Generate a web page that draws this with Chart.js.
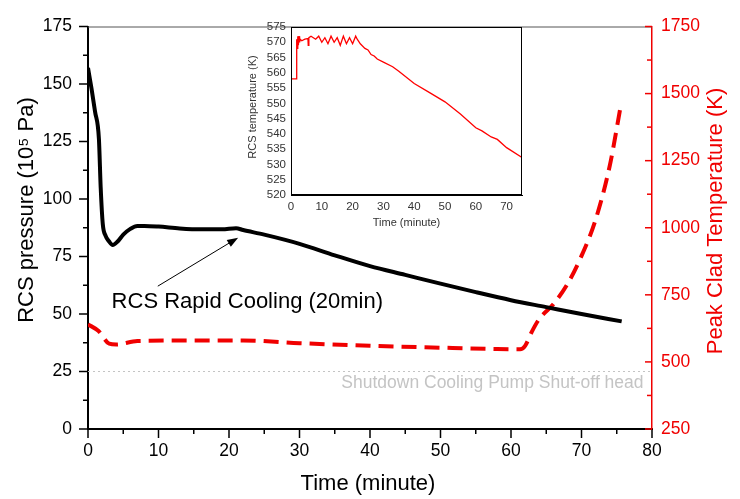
<!DOCTYPE html>
<html lang="en">
<head>
<meta charset="UTF-8">
<title>RCS pressure and PCT</title>
<script src="https://cdn.jsdelivr.net/npm/chart.js"></script>
<style>
  body { margin: 0; background: #fff; }
  #wrap { position: relative; width: 740px; height: 499px; }
  #main { position: absolute; left: 0; top: 0; }
  #inset { position: absolute; left: 240px; top: 18px; }
</style>
</head>
<body>
<div id="wrap">
  <canvas id="main" width="740" height="499"></canvas>
  <canvas id="inset" width="290" height="215"></canvas>
</div>
<script>
// RCS pressure (10^5 Pa) vs time (minute)
var timeP = [0, 0.5, 1, 1.55, 1.8, 2.1, 2.5, 3, 3.5, 4.2, 5, 6, 7, 8, 10, 13, 16, 19, 21, 22, 25, 30, 35, 40, 45, 50, 55, 60, 65, 70, 75.7];
var pressure = [157, 148, 138, 126, 105, 89, 84, 81.5, 80, 81.5, 84.5, 87, 88.3, 88.3, 88, 87.2, 86.8, 86.8, 87.3, 86.5, 84.5, 80.5, 75.5, 70.8, 67, 63.2, 59.5, 56, 53, 50, 46.8];

// peak clad temperature (K)
var timePct = [0, 1.5, 3, 4, 7, 15, 22, 30, 40, 50, 58, 61.3, 62, 63, 64, 66, 68, 70, 72, 74, 75.5];
var pct = [640, 615, 568, 565, 578, 580, 580, 570, 560, 553, 548, 547, 560, 615, 660, 715, 790, 895, 1030, 1230, 1445];

// inset: RCS temperature (K)
var timeT = [0, 1.8, 1.85, 2.0, 2.2, 2.4, 2.6, 2.8, 3.0, 3.5, 4.5, 5.5, 5.6, 5.8, 6.5, 8, 9, 10, 11, 12, 13, 14, 15, 16, 17, 18, 19, 20, 21, 21.5, 22.5, 24, 25, 26, 27, 28, 30, 33, 35, 40, 45, 50, 55, 60, 62, 65, 67, 70, 75];
var tempT = [558, 558, 571, 568, 572, 569, 572, 570, 571, 570.5, 571, 571.2, 569, 571.5, 572, 571, 572, 570, 571.5, 569.5, 572, 570, 571.5, 569, 572, 569.5, 571.5, 569.5, 572, 571, 569.5, 568, 567.5, 566, 565.5, 564.5, 563.5, 562, 560.5, 556.5, 553.5, 550.5, 546.5, 542, 541, 539, 538.2, 535.5, 532.3];
var insetTimeTicks = [0, 10, 20, 30, 40, 50, 60, 70];

var shutoffHead = 25;
var noteText = 'RCS Rapid Cooling (20min)';
var shutoffText = 'Shutdown Cooling Pump Shut-off head';

var RED = '#f00000';
var FONT = 'Liberation Sans, Arial, sans-serif';

function pts(xs, ys) {
  return xs.map(function (v, i) { return { x: v, y: ys[i] }; });
}

function plain(v) { return String(v); }

function seg(ctx, x1, y1, x2, y2) {
  ctx.beginPath(); ctx.moveTo(x1, y1); ctx.lineTo(x2, y2); ctx.stroke();
}

// tick marks, frame, titles
var axisMarks = {
  id: 'axisMarks',
  afterDraw: function (chart) {
    var ctx = chart.ctx, a = chart.chartArea;
    var x = chart.scales.x, y = chart.scales.y, y2 = chart.scales.y2;
    var v, p;
    ctx.save();
    ctx.strokeStyle = '#555'; ctx.lineWidth = 1;
    seg(ctx, a.left, a.top + 0.5, a.right, a.top + 0.5);

    ctx.strokeStyle = '#000'; ctx.lineWidth = 1.5;
    for (v = 0; v <= 175; v += 12.5) {
      p = y.getPixelForValue(v);
      seg(ctx, a.left, p, a.left - (v % 25 === 0 ? 9 : 5), p);
    }
    for (v = 0; v <= 80; v += 5) {
      p = x.getPixelForValue(v);
      seg(ctx, p, a.bottom, p, a.bottom + (v % 10 === 0 ? 9 : 5));
    }
    ctx.strokeStyle = RED;
    for (v = 250; v <= 1750; v += 125) {
      p = y2.getPixelForValue(v);
      seg(ctx, a.right, p, a.right - (v % 250 === 0 ? 7 : 5), p);
    }

    ctx.textAlign = 'center'; ctx.textBaseline = 'middle';
    ctx.font = '22px ' + FONT;
    ctx.fillStyle = '#000';
    ctx.fillText('Time (minute)', (a.left + a.right) / 2 - 2, 484);
    ctx.save();
    ctx.translate(27, 210); ctx.rotate(-Math.PI / 2);
    ctx.fillText('RCS pressure (10\u2075 Pa)', 0, 0);
    ctx.restore();
    ctx.save();
    ctx.fillStyle = RED;
    ctx.translate(716, 221); ctx.rotate(-Math.PI / 2);
    ctx.fillText('Peak Clad Temperature (K)', 0, 0);
    ctx.restore();
    ctx.restore();
  }
};

// shut-off head line and the cooling note
var notes = {
  id: 'notes',
  beforeDatasetsDraw: function (chart) {
    var ctx = chart.ctx, a = chart.chartArea;
    var x = chart.scales.x, y = chart.scales.y;
    var py = y.getPixelForValue(shutoffHead);
    ctx.save();
    ctx.strokeStyle = '#c4c4c4'; ctx.lineWidth = 1; ctx.setLineDash([2, 3]);
    seg(ctx, a.left, py, a.right, py);
    ctx.setLineDash([]);
    ctx.fillStyle = '#c4c4c4';
    ctx.font = '17.5px ' + FONT;
    ctx.textAlign = 'right'; ctx.textBaseline = 'middle';
    ctx.fillText(shutoffText, x.getPixelForValue(78.8), y.getPixelForValue(20));

    // arrow
    var x1 = x.getPixelForValue(9.9), y1 = y.getPixelForValue(62.1);
    var x2 = x.getPixelForValue(21.3), y2 = y.getPixelForValue(83.2);
    var ang = Math.atan2(y2 - y1, x2 - x1);
    ctx.strokeStyle = '#000'; ctx.lineWidth = 1;
    seg(ctx, x1, y1, x2 - 6 * Math.cos(ang), y2 - 6 * Math.sin(ang));
    ctx.fillStyle = '#000';
    ctx.beginPath();
    ctx.moveTo(x2, y2);
    ctx.lineTo(x2 - 11 * Math.cos(ang) + 4 * Math.sin(ang), y2 - 11 * Math.sin(ang) - 4 * Math.cos(ang));
    ctx.lineTo(x2 - 11 * Math.cos(ang) - 4 * Math.sin(ang), y2 - 11 * Math.sin(ang) + 4 * Math.cos(ang));
    ctx.closePath(); ctx.fill();

    ctx.font = '22px ' + FONT;
    ctx.textAlign = 'center';
    ctx.fillText(noteText, x.getPixelForValue(22.6), y.getPixelForValue(55.4));
    ctx.restore();
  }
};

var tickFont = { family: FONT, size: 17.5 };

new Chart(document.getElementById('main'), {
  type: 'line',
  data: {
    datasets: [{
      data: pts(timeP, pressure),
      yAxisID: 'y',
      borderColor: '#000',
      borderWidth: 4,
      pointRadius: 0,
      cubicInterpolationMode: 'monotone'
    }, {
      data: pts(timePct, pct),
      yAxisID: 'y2',
      borderColor: RED,
      borderWidth: 4,
      borderDash: [15, 8],
      pointRadius: 0,
      cubicInterpolationMode: 'monotone'
    }]
  },
  options: {
    responsive: false,
    animation: false,
    layout: { padding: { top: 15 } },
    plugins: { legend: { display: false }, tooltip: { enabled: false } },
    scales: {
      x: {
        type: 'linear', min: 0, max: 80,
        ticks: { stepSize: 10, font: tickFont, color: '#000', padding: 12, callback: plain, maxRotation: 0 },
        grid: { display: false, drawTicks: false },
        border: { color: '#000', width: 2 },
        afterFit: function (s) { s.height = 70; }
      },
      y: {
        position: 'left', min: 0, max: 175,
        ticks: { stepSize: 25, font: tickFont, color: '#000', padding: 16, callback: plain },
        grid: { display: false, drawTicks: false },
        border: { color: '#000', width: 2 },
        afterFit: function (s) { s.width = 88; }
      },
      y2: {
        position: 'right', min: 250, max: 1750,
        ticks: { stepSize: 250, font: tickFont, color: RED, padding: 9, callback: plain },
        grid: { display: false, drawTicks: false },
        border: { color: RED, width: 1.5 },
        afterFit: function (s) { s.width = 88; }
      }
    }
  },
  plugins: [axisMarks, notes]
});

// inset chart
var insetFrame = {
  id: 'insetFrame',
  afterDraw: function (chart) {
    var ctx = chart.ctx, a = chart.chartArea;
    ctx.save();
    ctx.strokeStyle = '#000'; ctx.lineWidth = 1;
    ctx.strokeRect(a.left + 0.5, a.top + 0.5, a.right - a.left - 1, a.bottom - a.top - 1);
    ctx.fillStyle = '#333';
    ctx.font = '11px ' + FONT;
    ctx.textAlign = 'center'; ctx.textBaseline = 'middle';
    ctx.fillText('Time (minute)', (a.left + a.right) / 2, 205);
    ctx.translate(13, 89); ctx.rotate(-Math.PI / 2);
    ctx.fillText('RCS temperature (K)', 0, 0);
    ctx.restore();
  }
};

var insetFont = { family: FONT, size: 11.5 };

new Chart(document.getElementById('inset'), {
  type: 'line',
  data: {
    datasets: [{
      data: pts(timeT, tempT),
      borderColor: '#ff0000',
      borderWidth: 1.3,
      pointRadius: 0,
      tension: 0
    }]
  },
  options: {
    responsive: false,
    animation: false,
    layout: { padding: { top: 9, right: 8 } },
    plugins: { legend: { display: false }, tooltip: { enabled: false } },
    scales: {
      x: {
        type: 'linear', min: 0, max: 75,
        ticks: { font: insetFont, color: '#333', padding: 2, autoSkip: false, maxRotation: 0, callback: plain },
        afterBuildTicks: function (s) { s.ticks = insetTimeTicks.map(function (v) { return { value: v }; }); },
        grid: { display: false, drawTicks: true, tickLength: 3, color: '#000' },
        border: { color: '#000', width: 1 },
        afterFit: function (s) { s.height = 38; }
      },
      y: {
        min: 520, max: 575,
        ticks: { stepSize: 5, font: insetFont, color: '#333', padding: 2, autoSkip: false, callback: plain },
        grid: { display: false, drawTicks: true, tickLength: 3, color: '#000' },
        border: { color: '#000', width: 1 },
        afterFit: function (s) { s.width = 51; }
      }
    }
  },
  plugins: [insetFrame]
});
</script>
</body>
</html>
